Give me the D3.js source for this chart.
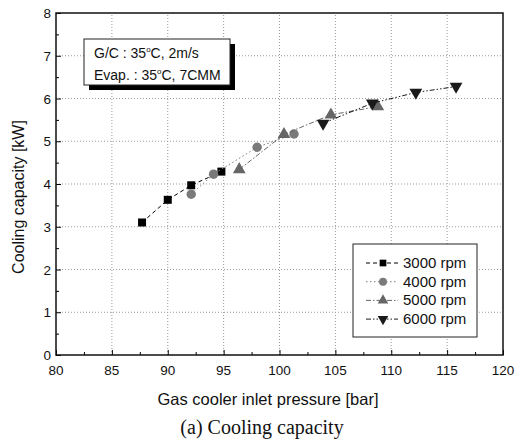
<!DOCTYPE html>
<html>
<head>
<meta charset="utf-8">
<script src="https://cdn.jsdelivr.net/npm/d3@7"></script>
<style>
  body { margin: 0; background: #fff; }
  text { font-family: "Liberation Sans", Arial, sans-serif; fill: #111; }
</style>
</head>
<body>
<script>
// data
const pressure3000 = [87.7, 90.0, 92.1, 94.8];
const capacity3000 = [3.10, 3.63, 3.97, 4.29];
const pressure4000 = [92.1, 94.1, 98.0, 101.3];
const capacity4000 = [3.76, 4.23, 4.86, 5.17];
const pressure5000 = [96.4, 100.4, 104.6, 108.8];
const capacity5000 = [4.34, 5.16, 5.62, 5.81];
const pressure6000 = [103.9, 108.3, 112.2, 115.8];
const capacity6000 = [5.42, 5.89, 6.14, 6.28];
const xTicks = [80, 85, 90, 95, 100, 105, 110, 115, 120];
const yTicks = [0, 1, 2, 3, 4, 5, 6, 7, 8];

const series = [
  {name: "3000 rpm", x: pressure3000, y: capacity3000, sym: d3.symbolSquare, size: 64, color: "#000", dash: "4,3"},
  {name: "4000 rpm", x: pressure4000, y: capacity4000, sym: d3.symbolCircle, size: 70, color: "#7a7a7a", dash: "1.5,2.5"},
  {name: "5000 rpm", x: pressure5000, y: capacity5000, sym: d3.symbolTriangle, size: 70, color: "#666", dash: "5,2,1.5,2"},
  {name: "6000 rpm", x: pressure6000, y: capacity6000, sym: d3.symbolTriangle, size: 70, color: "#1a1a1a", dash: "5,2,1.5,2,1.5,2", flip: true}
];

const width = 515, height = 443;
const margin = {left: 56, top: 13, right: 12, bottom: 88};

const svg = d3.select("body").append("svg")
  .attr("width", width)
  .attr("height", height);

const x = d3.scaleLinear().domain([80, 120]).range([margin.left, width - margin.right]);
const y = d3.scaleLinear().domain([0, 8]).range([height - margin.bottom, margin.top]);

// grid
svg.append("g")
  .selectAll("line")
  .data(xTicks.slice(1, -1))
  .enter().append("line")
  .attr("x1", d => x(d)).attr("x2", d => x(d))
  .attr("y1", y(0)).attr("y2", y(8))
  .attr("stroke", "#999").attr("stroke-dasharray", "1,2");
svg.append("g")
  .selectAll("line")
  .data(yTicks.slice(1, -1))
  .enter().append("line")
  .attr("y1", d => y(d)).attr("y2", d => y(d))
  .attr("x1", x(80)).attr("x2", x(120))
  .attr("stroke", "#999").attr("stroke-dasharray", "1,2");

// axes, ticks inside
const xAxis = svg.append("g")
  .attr("transform", `translate(0,${y(0)})`)
  .call(d3.axisBottom(x).tickValues(d3.range(80, 120.1, 2.5)).tickSize(-5).tickFormat(""));
xAxis.selectAll(".tick line").filter(d => d % 5 !== 0).attr("y2", -3);
const yAxis = svg.append("g")
  .attr("transform", `translate(${x(80)},0)`)
  .call(d3.axisLeft(y).tickValues(d3.range(0, 8.01, 0.5)).tickSize(-5).tickFormat(""));
yAxis.selectAll(".tick line").filter(d => d % 1 !== 0).attr("x2", 3);
svg.selectAll(".domain").remove();

svg.append("rect")
  .attr("x", x(80)).attr("y", y(8))
  .attr("width", x(120) - x(80)).attr("height", y(0) - y(8))
  .attr("fill", "none").attr("stroke", "#111").attr("stroke-width", 1.5);

svg.append("g").selectAll("text")
  .data(xTicks).enter().append("text")
  .attr("x", d => x(d)).attr("y", y(0) + 20)
  .attr("text-anchor", "middle").attr("font-size", 13.5)
  .text(d => d);
svg.append("g").selectAll("text")
  .data(yTicks).enter().append("text")
  .attr("x", x(80) - 5).attr("y", d => y(d) + 5)
  .attr("text-anchor", "end").attr("font-size", 13.5)
  .text(d => d);

// lines and markers
const line = d3.line().x(d => x(d[0])).y(d => y(d[1]));
series.forEach(s => {
  const pts = s.x.map((v, i) => [v, s.y[i]]);
  svg.append("path")
    .attr("d", line(pts))
    .attr("fill", "none").attr("stroke", s.color).attr("stroke-width", 1)
    .attr("stroke-dasharray", s.dash);
  svg.append("g").selectAll("path")
    .data(pts).enter().append("path")
    .attr("d", d3.symbol().type(s.sym).size(s.size))
    .attr("transform", d => `translate(${x(d[0])},${y(d[1])})${s.flip ? " rotate(180)" : ""}`)
    .attr("fill", s.color);
});

// condition box
svg.append("rect").attr("x", 89).attr("y", 44).attr("width", 146).attr("height", 46).attr("fill", "#000");
svg.append("rect").attr("x", 84).attr("y", 39).attr("width", 146).attr("height", 46)
  .attr("fill", "#fff").attr("stroke", "#222").attr("stroke-width", 1);
const t1 = svg.append("text").attr("x", 94).attr("y", 58).attr("font-size", 14);
t1.append("tspan").text("G/C : 35");
t1.append("tspan").attr("font-size", 8).attr("dy", -6).text("o");
t1.append("tspan").attr("dy", 6).text("C, 2m/s");
const t2 = svg.append("text").attr("x", 94).attr("y", 80).attr("font-size", 14);
t2.append("tspan").text("Evap. : 35");
t2.append("tspan").attr("font-size", 8).attr("dy", -6).text("o");
t2.append("tspan").attr("dy", 6).text("C, 7CMM");

// legend
svg.append("rect").attr("x", 353).attr("y", 244).attr("width", 124).attr("height", 93)
  .attr("fill", "#fff").attr("stroke", "#222").attr("stroke-width", 1);
series.forEach((s, i) => {
  const ly = 263 + i * 18.7;
  svg.append("line").attr("x1", 366).attr("x2", 398).attr("y1", ly).attr("y2", ly)
    .attr("stroke", s.color).attr("stroke-dasharray", s.dash);
  svg.append("path")
    .attr("d", d3.symbol().type(s.sym).size(s.size * 0.7))
    .attr("transform", `translate(383,${ly})${s.flip ? " rotate(180)" : ""}`)
    .attr("fill", s.color);
  svg.append("text").attr("x", 403).attr("y", ly + 5).attr("font-size", 15).text(s.name);
});

// titles
svg.append("text")
  .attr("x", 268).attr("y", 405)
  .attr("text-anchor", "middle").attr("font-size", 16.5)
  .text("Gas cooler inlet pressure [bar]");
svg.append("text")
  .attr("transform", `translate(24,197) rotate(-90)`)
  .attr("text-anchor", "middle").attr("font-size", 16)
  .text("Cooling capacity [kW]");
svg.append("text")
  .attr("x", 262).attr("y", 434)
  .attr("text-anchor", "middle").attr("font-size", 20)
  .style("font-family", "'Liberation Serif', 'Times New Roman', serif")
  .text("(a) Cooling capacity");
</script>
</body>
</html>
